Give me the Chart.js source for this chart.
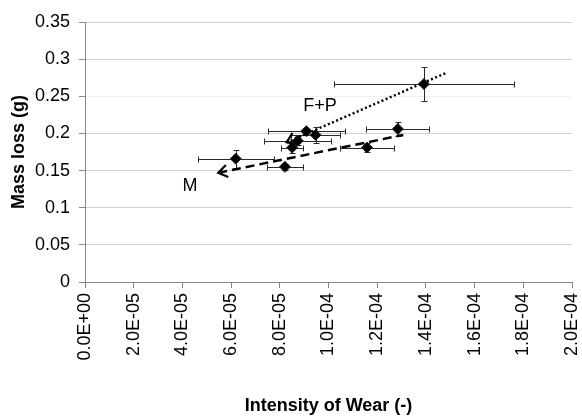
<!DOCTYPE html>
<html>
<head>
<meta charset="utf-8">
<script src="https://cdn.jsdelivr.net/npm/chart.js@4/dist/chart.umd.min.js"></script>
<style>
	html, body { margin: 0; padding: 0; background: #fff; }
	#wrap { width: 582px; height: 419px; }
</style>
</head>
<body>
<div id="wrap"><canvas id="wear-chart" width="582" height="419"></canvas></div>
<script>
// measured points (intensity of wear vs mass loss) with their error bars
const intensity = [6.19e-5, 8.21e-5, 8.51e-5, 8.74e-5, 9.09e-5, 9.47e-5, 1.158e-4, 1.285e-4, 1.392e-4];
const massLoss = [0.166, 0.155, 0.181, 0.190, 0.203, 0.198, 0.181, 0.206, 0.2665];
const intensityErr = [1.56e-5, 0.75e-5, 0.45e-5, 1.37e-5, 1.59e-5, 1.0e-5, 1.09e-5, 1.29e-5, 3.7e-5];
const massLossErr = [0.012, 0.004, 0.008, 0.006, 0.004, 0.011, 0.006, 0.009, 0.023];

// hand-drawn trend arrows (start point carries the arrow head)
const fpLineX = [8.28e-5, 1.487e-4];
const fpLineY = [0.188, 0.282];
const mLineX = [5.47e-5, 1.307e-4];
const mLineY = [0.147, 0.198];

// text labels next to the arrows
const arrowLabels = ['F+P', 'M'];
const arrowLabelX = [9.65e-5, 4.31e-5];
const arrowLabelY = [0.237, 0.129];

// axis ranges / ticks
const xMin = 0, xMax = 2e-4, xStep = 2e-5;
const yMin = 0, yMax = 0.35, yStep = 0.05;

const FONT = '"Liberation Sans", Arial, sans-serif';

function sciLabel(v) {
	const [m, e] = Number(v).toExponential(1).split('e');
	const sign = e[0] === '-' ? '-' : '+';
	return m.toUpperCase() + 'E' + sign + String(Math.abs(+e)).padStart(2, '0');
}

const toXY = (xs, ys) => xs.map((x, i) => ({ x, y: ys[i] }));

// snap 1px strokes onto the pixel grid so they stay crisp
const crisp = p => Math.round(p) + 0.5;

const errorBars = {
	id: 'errorBars',
	beforeDatasetsDraw(chart) {
		const { ctx, scales: { x, y } } = chart;
		const cap = 3;
		ctx.save();
		ctx.strokeStyle = '#2a2a2a';
		ctx.lineWidth = 1;
		intensity.forEach((v, i) => {
			const px = crisp(x.getPixelForValue(v)), py = crisp(y.getPixelForValue(massLoss[i]));
			const x0 = crisp(x.getPixelForValue(v - intensityErr[i])), x1 = crisp(x.getPixelForValue(v + intensityErr[i]));
			const y0 = crisp(y.getPixelForValue(massLoss[i] - massLossErr[i])), y1 = crisp(y.getPixelForValue(massLoss[i] + massLossErr[i]));
			ctx.beginPath();
			ctx.moveTo(x0, py); ctx.lineTo(x1, py);
			ctx.moveTo(x0, py - cap); ctx.lineTo(x0, py + cap);
			ctx.moveTo(x1, py - cap); ctx.lineTo(x1, py + cap);
			ctx.moveTo(px, y0); ctx.lineTo(px, y1);
			ctx.moveTo(px - cap, y0); ctx.lineTo(px + cap, y0);
			ctx.moveTo(px - cap, y1); ctx.lineTo(px + cap, y1);
			ctx.stroke();
		});
		ctx.restore();
	}
};

const arrows = {
	id: 'arrows',
	afterDatasetsDraw(chart) {
		const { ctx, scales: { x, y } } = chart;
		ctx.save();
		chart.data.datasets.forEach((ds, di) => {
			if (!ds.arrowStart) return;
			const pts = chart.getDatasetMeta(di).data;
			const a = pts[0], b = pts[1];
			const ang = Math.atan2(b.y - a.y, b.x - a.x);
			const len = 11, spread = 0.6;
			ctx.beginPath();
			ctx.strokeStyle = '#000';
			ctx.lineWidth = 2.2;
			ctx.setLineDash([]);
			ctx.moveTo(a.x + len * Math.cos(ang - spread), a.y + len * Math.sin(ang - spread));
			ctx.lineTo(a.x, a.y);
			ctx.lineTo(a.x + len * Math.cos(ang + spread), a.y + len * Math.sin(ang + spread));
			ctx.stroke();
		});
		ctx.fillStyle = '#000';
		ctx.font = '18px ' + FONT;
		ctx.textAlign = 'center';
		ctx.textBaseline = 'middle';
		arrowLabels.forEach((t, i) => {
			ctx.fillText(t, x.getPixelForValue(arrowLabelX[i]), y.getPixelForValue(arrowLabelY[i]));
		});
		ctx.restore();
	}
};

new Chart(document.getElementById('wear-chart'), {
	type: 'scatter',
	data: {
		datasets: [{
			label: 'F+P trend',
			data: toXY(fpLineX, fpLineY),
			showLine: true,
			borderColor: '#000',
			borderWidth: 2.5,
			borderDash: [2, 2.5],
			pointRadius: 0,
			arrowStart: true
		}, {
			label: 'M trend',
			data: toXY(mLineX, mLineY),
			showLine: true,
			borderColor: '#000',
			borderWidth: 2.5,
			borderDash: [9, 5],
			pointRadius: 0,
			arrowStart: true
		}, {
			label: 'Mass loss',
			data: toXY(intensity, massLoss),
			pointStyle: 'rectRot',
			pointRadius: 5.5,
			backgroundColor: '#000',
			borderColor: '#222',
			borderWidth: 1
		}]
	},
	options: {
		responsive: false,
		animation: false,
		events: [],
		layout: { padding: { left: 0, right: 10, top: 22, bottom: 0 } },
		plugins: { legend: { display: false }, tooltip: { enabled: false } },
		scales: {
			x: {
				type: 'linear',
				min: xMin, max: xMax,
				afterFit: s => { s.height = 137; s.paddingLeft = 0; s.paddingRight = 0; },
				border: { color: '#888', width: 1 },
				grid: { drawOnChartArea: false, drawTicks: true, tickLength: 6, tickColor: '#888' },
				ticks: {
					stepSize: xStep,
					minRotation: 90, maxRotation: 90,
					padding: 5,
					color: '#000',
					font: { family: FONT, size: 18 },
					callback: v => sciLabel(v)
				},
				title: {
					display: true,
					text: 'Intensity of Wear (-)',
					color: '#000',
					font: { family: FONT, size: 18, weight: 'bold' },
					padding: { top: 0, bottom: 2 }
				}
			},
			y: {
				type: 'linear',
				min: yMin, max: yMax,
				afterFit: s => { s.width = 85; },
				border: { color: '#888', width: 1 },
				grid: {
					color: ctx => (ctx.tick && Math.abs(ctx.tick.value - 0.25) < 1e-9) ? '#f0f0f0' : '#d0d0d0',
					lineWidth: 1,
					tickLength: 6,
					tickColor: '#888'
				},
				ticks: {
					stepSize: yStep,
					padding: 9,
					color: '#000',
					font: { family: FONT, size: 18 },
					callback: v => String(+Number(v).toFixed(2))
				},
				title: {
					display: true,
					text: 'Mass loss (g)',
					color: '#000',
					font: { family: FONT, size: 18, weight: 'bold' },
					padding: { top: 8, bottom: 0 }
				}
			}
		}
	},
	plugins: [errorBars, arrows]
});
</script>
</body>
</html>
